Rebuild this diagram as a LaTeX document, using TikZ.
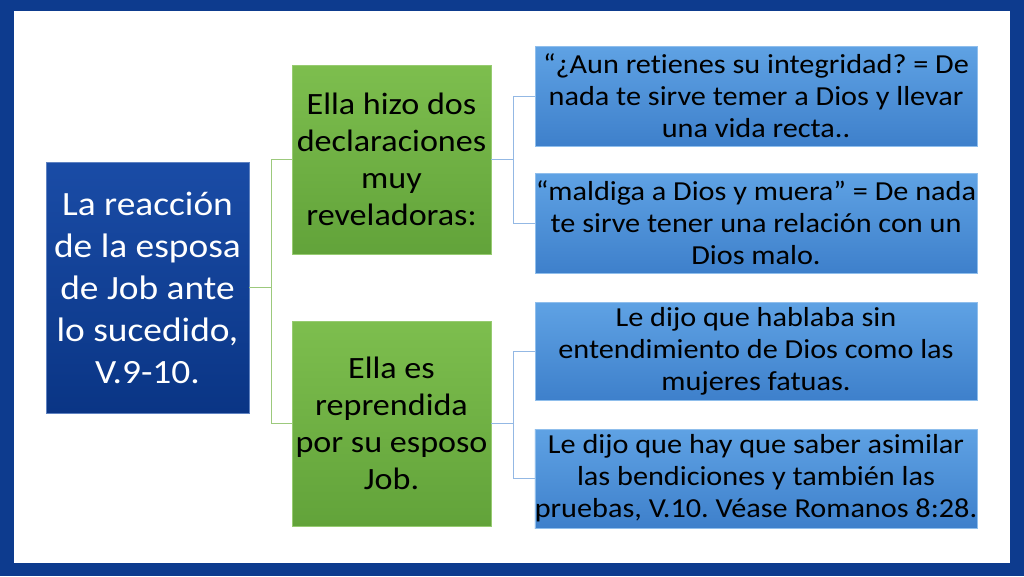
\documentclass[tikz,border=0pt]{standalone}
\usepackage{fontspec}
\setmainfont{Carlito}[FakeStretch=1.1,Ligatures=NoCommon]
\usepackage{tikz}
\usetikzlibrary{positioning}
\frenchspacing

\definecolor{marco}{HTML}{0D3B8E}
\definecolor{raizA}{HTML}{1A4CA6}
\definecolor{raizB}{HTML}{0A3585}
\definecolor{verdeA}{HTML}{7DBE4E}
\definecolor{verdeB}{HTML}{62A33A}
\definecolor{azulA}{HTML}{5FA2E4}
\definecolor{azulB}{HTML}{3E80CB}
\definecolor{lineaverde}{HTML}{9CC97C}
\definecolor{lineaazul}{HTML}{93B8E4}

\begin{document}
\begin{tikzpicture}[x=1pt,y=-1pt,every node/.style={inner sep=0pt,align=center},
  raiz/.style={minimum width=203pt,minimum height=251pt,top color=raizA,bottom color=raizB,
    draw=raizA!70!white,text=white,font=\fontsize{34}{42}\selectfont},
  rama/.style={minimum width=199pt,top color=verdeA,bottom color=verdeB,
    draw=verdeA!80!white,font=\fontsize{31}{37}\selectfont},
  hoja/.style={minimum width=442pt,top color=azulA,bottom color=azulB,
    draw=azulA!70!white,font=\fontsize{27.5}{32}\selectfont},
  conv/.style={lineaverde,line width=1pt},
  cona/.style={lineaazul,line width=1pt}]

  % frame
  \fill[marco] (0,0) rectangle (1024,576);
  \fill[white] (14,11) rectangle (1010,563);
  \useasboundingbox (0,0) rectangle (1024,576);

  % root
  \node[raiz] (reaccion) at (147.5,287.5) {La reacción\\de la esposa\\de Job ante\\lo sucedido,\\V.9-10.};

  % branches
  \node[rama,minimum height=189pt] (declara) at (391.5,159.5) {Ella hizo dos\\declaraciones\\muy\\reveladoras:};
  \node[rama,minimum height=205pt] (reprende) at (391.5,423.5) {Ella es\\reprendida\\por su esposo\\Job.};

  % leaves
  \node[hoja,minimum height=100pt] (integridad) at (756,96) {“¿Aun retienes su integridad? = De\\nada te sirve temer a Dios y llevar\\una vida recta..};
  \node[hoja,minimum height=100pt] (maldiga) at (756,223) {“maldiga a Dios y muera” = De nada\\te sirve tener una relación con un\\Dios malo.};
  \node[hoja,minimum height=98pt] (hablaba) at (756,351) {Le dijo que hablaba sin\\entendimiento de Dios como las\\mujeres fatuas.};
  \node[hoja,minimum height=99pt] (asimilar) at (756,478.5) {Le dijo que hay que saber asimilar\\las bendiciones y también las\\pruebas, V.10. Véase Romanos 8:28.};

  % connectors
  \draw[conv] (reaccion.east) -- ++(22,0) |- (declara.west);
  \draw[conv] (reaccion.east) -- ++(22,0) |- (reprende.west);
  \draw[cona] (declara.east) -- ++(22,0) |- (integridad.west);
  \draw[cona] (declara.east) -- ++(22,0) |- (maldiga.west);
  \draw[cona] (reprende.east) -- ++(22,0) |- (hablaba.west);
  \draw[cona] (reprende.east) -- ++(22,0) |- (asimilar.west);

\end{tikzpicture}
\end{document}
